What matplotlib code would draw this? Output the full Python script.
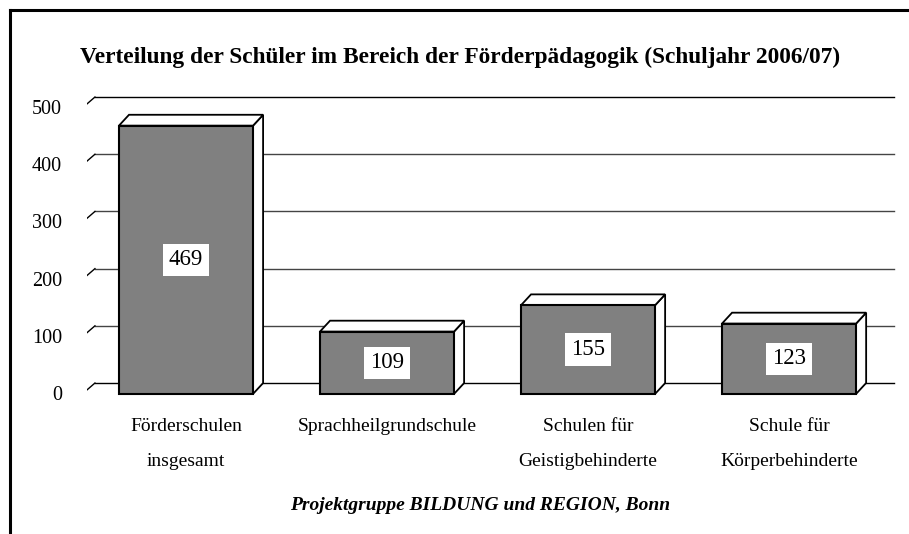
import matplotlib
matplotlib.use("Agg")
import matplotlib.pyplot as plt
import matplotlib.transforms as mtransforms
from matplotlib.patches import Rectangle, Polygon
from matplotlib.lines import Line2D

plt.rcParams["font.family"] = ["Liberation Serif", "DejaVu Serif"]

# --- data ---
categories = ["Förderschulen\ninsgesamt", "Sprachheilgrundschule",
              "Schulen für\nGeistigbehinderte", "Schule für\nKörperbehinderte"]
values = [469, 109, 155, 123]
yticks = [0, 100, 200, 300, 400, 500]
title = "Verteilung der Schüler im Bereich der Förderpädagogik (Schuljahr 2006/07)"
footer = "Projektgruppe BILDUNG und REGION, Bonn"

# 3D look: front face is shifted left/down from the back wall
depth_x = 0.05      # category units
depth_y = 19.0      # value units
bar_w = 0.667

fig = plt.figure(figsize=(9.09, 5.34), dpi=100)
ax = fig.add_axes([87 / 909, (534 - 400.2) / 534, 810 / 909, 314.6 / 534])
ax.set_xlim(-0.4925, 3.537)
ax.set_ylim(-30, 520)
for s in ax.spines.values():
    s.set_visible(False)

# back wall gridlines + little diagonal ticks on the left
x_wall0 = -0.453
x_wall1 = 3.522
for v in yticks:
    col = "black" if v in (0, 500) else "#444444"
    ax.plot([x_wall0, x_wall1], [v, v], color=col, lw=1.0, zorder=1)
    ax.plot([-0.4925, x_wall0], [v - 12, v], color="black", lw=1.0, zorder=1)

# bars
for i, v in enumerate(values):
    x0 = i - bar_w / 2
    x1 = i + bar_w / 2
    base = -depth_y
    top = v - depth_y
    side = Polygon([(x1, base), (x1, top), (x1 + depth_x, top + depth_y),
                    (x1 + depth_x, base + depth_y)], closed=True,
                   facecolor="white", edgecolor="black", lw=1.3, zorder=3)
    lid = Polygon([(x0, top), (x1, top), (x1 + depth_x, top + depth_y),
                   (x0 + depth_x, top + depth_y)], closed=True,
                  facecolor="white", edgecolor="black", lw=1.3, zorder=3)
    front = Rectangle((x0, base), bar_w, v, facecolor="#808080",
                      edgecolor="black", lw=1.5, zorder=4)
    ax.add_patch(side)
    ax.add_patch(lid)
    ax.add_patch(front)
    ax.text(i, base + v / 2, str(v), ha="center", va="center", fontsize=16.5,
            zorder=5, bbox=dict(boxstyle="square,pad=0.25", facecolor="white",
                                edgecolor="none"))

# axes labels
ax.set_xticks(range(len(categories)))
ax.set_xticklabels(categories, fontsize=14, linespacing=2.35)
ax.tick_params(axis="x", length=0, pad=13)
ax.set_yticks(yticks)
ax.set_yticklabels([str(t) for t in yticks], fontsize=14.5)
ax.tick_params(axis="y", length=0, pad=18)
shift = mtransforms.ScaledTranslation(0, -10 / 100, fig.dpi_scale_trans)
for lbl in ax.get_yticklabels():
    lbl.set_transform(lbl.get_transform() + shift)

fig.text(460 / 909, 1 - 57 / 534, title, ha="center", va="center",
         fontsize=16.8, fontweight="bold")
fig.text(480 / 909, 1 - 505 / 534, footer, ha="center", va="center",
         fontsize=14, fontweight="bold", fontstyle="italic")

# frame around the chart (only left and top visible)
fig.add_artist(Line2D([10 / 909, 10 / 909], [0, 1 - 10 / 534], color="black",
                      lw=2.2, transform=fig.transFigure))
fig.add_artist(Line2D([10 / 909, 1], [1 - 10 / 534, 1 - 10 / 534], color="black",
                      lw=2.2, transform=fig.transFigure))

fig.savefig("out.png", dpi=100)
